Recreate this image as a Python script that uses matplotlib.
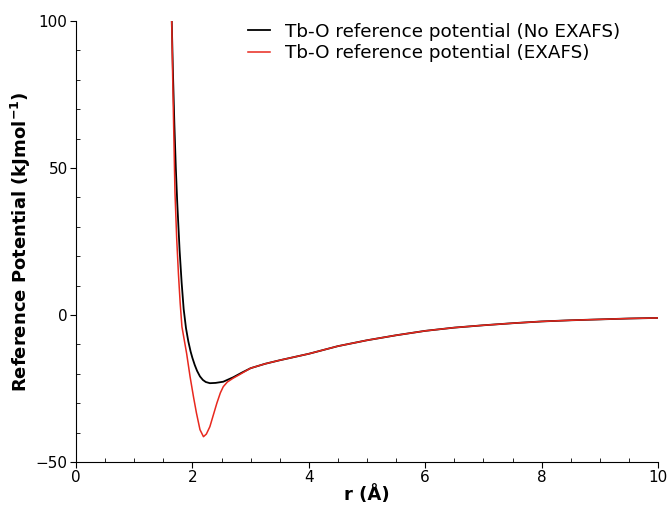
import matplotlib.pyplot as plt
from matplotlib.ticker import MultipleLocator

# distances (Angstrom) and potential values (kJ/mol)
r_no_exafs = [1.645, 1.665, 1.69, 1.715, 1.74, 1.78, 1.815, 1.85, 1.89, 1.93, 1.97,
              2.00, 2.04, 2.08, 2.13, 2.18, 2.23, 2.30, 2.40, 2.53, 2.70, 2.85,
              3.0, 3.25, 3.5, 4.0, 4.5, 5.0, 5.5, 6.0, 6.5, 7.0, 7.5, 8.0,
              8.5, 9.0, 9.5, 10.0]
v_no_exafs = [100, 83, 65, 50, 38, 22, 11, 2, -4.5, -9, -12.5,
              -14.6, -17.0, -19.0, -20.9, -22.1, -22.8, -23.2, -23.1, -22.7, -21.2, -19.6,
              -18.1, -16.6, -15.4, -13.2, -10.6, -8.6, -6.9, -5.4, -4.3, -3.5, -2.8, -2.2,
              -1.8, -1.5, -1.2, -1.0]

r_exafs = [1.645, 1.66, 1.68, 1.70, 1.73, 1.76, 1.79, 1.82, 1.86, 1.90, 1.96,
           2.02, 2.07, 2.13, 2.19, 2.24, 2.30, 2.36, 2.42, 2.48, 2.53, 2.60,
           2.70, 2.80, 3.0, 3.25, 3.5, 4.0, 4.5, 5.0, 5.5, 6.0, 6.5, 7.0,
           7.5, 8.0, 8.5, 9.0, 9.5, 10.0]
v_exafs = [100, 82, 62, 42, 26, 14, 4, -4, -8.5, -13, -21,
           -28, -33.4, -39, -41.4, -40.5, -38, -34, -30, -26.5, -24.4, -22.8,
           -21.5, -20.4, -18.1, -16.6, -15.4, -13.2, -10.6, -8.6, -6.9, -5.4, -4.3, -3.5,
           -2.8, -2.2, -1.8, -1.5, -1.2, -1.0]

fig = plt.figure(figsize=(6.69, 5.12), dpi=100)
ax = fig.add_axes([0.1136, 0.0977, 0.87, 0.8613])

ax.plot(r_no_exafs, v_no_exafs, color='black', lw=1.3,
        label='Tb-O reference potential (No EXAFS)')
ax.plot(r_exafs, v_exafs, color='#e8281e', lw=1.1,
        label='Tb-O reference potential (EXAFS)')

ax.set_xlim(0, 10)
ax.set_ylim(-50, 100)
ax.xaxis.set_major_locator(MultipleLocator(2))
ax.xaxis.set_minor_locator(MultipleLocator(0.5))
ax.yaxis.set_major_locator(MultipleLocator(50))
ax.yaxis.set_minor_locator(MultipleLocator(10))
ax.tick_params(which='major', direction='out', length=4, labelsize=11, pad=2)
ax.tick_params(which='minor', direction='in', length=3)

ax.spines['top'].set_visible(False)
ax.spines['right'].set_visible(False)

ax.set_xlabel('r (Å)', fontsize=13, fontweight='bold', labelpad=0)
ax.set_ylabel('Reference Potential (kJmol$^{\\mathbf{-1}}$)', fontsize=13,
              fontweight='bold', labelpad=2)

ax.legend(loc='upper left', frameon=False, fontsize=13.2, handlelength=1.2,
          borderaxespad=0, labelspacing=0.2, bbox_to_anchor=(0.2835, 1.013))

fig.savefig('out.png', dpi=100)
